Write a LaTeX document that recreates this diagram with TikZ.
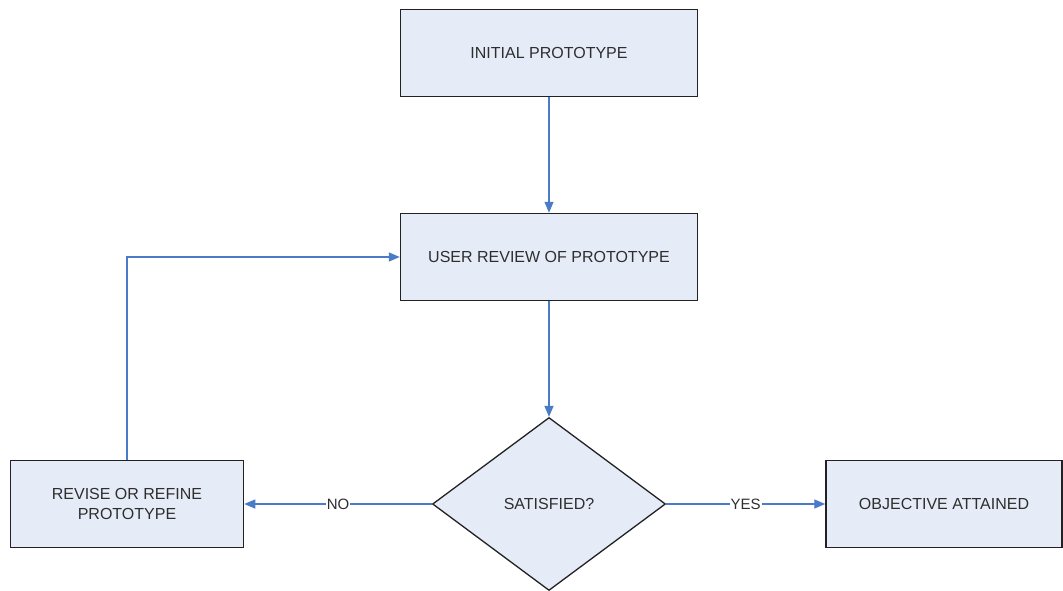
\documentclass[tikz,border=0pt]{standalone}
\usepackage{fontspec}
\setmainfont{Liberation Sans}
\usetikzlibrary{shapes.geometric,arrows.meta}
\definecolor{boxfill}{HTML}{E6ECF7}
\definecolor{linkblue}{HTML}{4A7BC6}
\definecolor{txtgray}{HTML}{2E2E2E}
\definecolor{edgegray}{HTML}{222222}
\begin{document}
\begin{tikzpicture}[x=1pt,y=-1pt,
  procbox/.style={draw=edgegray, line width=1.5pt, fill=boxfill, inner sep=0pt,
    text=txtgray, font=\fontsize{16}{20}\selectfont, align=center},
  decbox/.style={diamond, draw=edgegray, line width=1.3pt, fill=boxfill, inner sep=0pt,
    minimum width=233pt, minimum height=173pt, text=txtgray, font=\fontsize{16}{20}\selectfont},
  link/.style={draw=linkblue, line width=1.3pt, -{Triangle[length=11pt,width=9pt]}},
  lbl/.style={fill=white, inner sep=1pt, text=txtgray, font=\fontsize{15}{18}\selectfont}
]
\useasboundingbox (0,0) rectangle (1063,591);
\node[procbox, minimum width=297pt, minimum height=87pt] (init) at (549,53) {INITIAL PROTOTYPE};
\node[procbox, minimum width=297pt, minimum height=87pt] (review) at (549,257) {USER REVIEW OF PROTOTYPE};
\node[decbox] (sat) at (549,504) {SATISFIED?};
\node[procbox, minimum width=233pt, minimum height=87pt] (revise) at (127,504) {REVISE OR REFINE\\PROTOTYPE};
\node[procbox, minimum width=236pt, minimum height=87pt] (obj) at (944,504) {OBJECTIVE ATTAINED};
\draw[link] (init) -- (review);
\draw[link] (review) -- (sat);
\draw[link] (sat) -- node[lbl] {NO} (revise);
\draw[link] (sat) -- node[lbl] {YES} (obj);
\draw[link] (revise.north) |- (review.west);
\end{tikzpicture}
\end{document}
